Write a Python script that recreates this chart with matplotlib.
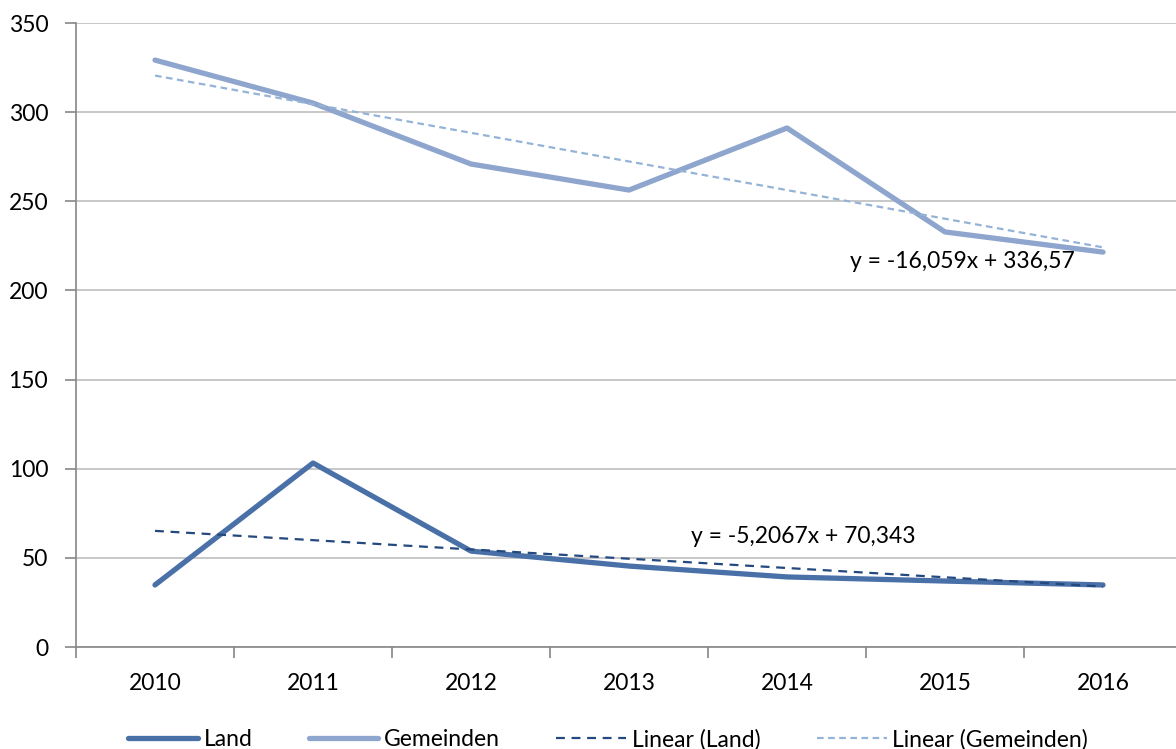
import matplotlib.pyplot as plt
import numpy as np

plt.rcParams['font.family'] = ['Lato', 'DejaVu Sans']

years = ["2010", "2011", "2012", "2013", "2014", "2015", "2016"]
land = [34.8, 103.2, 53.8, 45.4, 39.3, 37.0, 34.8]
gemeinden = [329.2, 305.1, 270.9, 256.3, 291.1, 232.8, 221.5]

# trendline coefficients (x = 1..7)
land_slope, land_intercept = -5.2067, 70.343
gem_slope, gem_intercept = -16.059, 336.57

c_land = '#4A70A8'
c_gem = '#8EA5CE'
c_land_trend = '#23497E'
c_gem_trend = '#95B3D7'

fs = 16.5

fig = plt.figure(figsize=(11.76, 7.49), dpi=100)
ax = fig.add_axes([76 / 1176, 102 / 749, 1106 / 1176, 624 / 749])

x = np.arange(len(years))
xn = x + 1

ax.plot(x, land, color=c_land, lw=3.8, solid_capstyle='round', label="Land", zorder=3)
ax.plot(x, gemeinden, color=c_gem, lw=3.8, solid_capstyle='round', label="Gemeinden", zorder=3)
ax.plot(x, land_intercept + land_slope * xn, color=c_land_trend, lw=1.6,
        dashes=(4, 3), label="Linear (Land)", zorder=4)
ax.plot(x, gem_intercept + gem_slope * xn, color=c_gem_trend, lw=1.6,
        dashes=(3, 2), label="Linear (Gemeinden)", zorder=4)


def fmt(v, digits):
    return f"{v:.{digits}f}".replace(".", ",")


ax.text(5.11, 216, f"y = {fmt(gem_slope, 3)}x + {fmt(gem_intercept, 2)}",
        ha='center', va='center', fontsize=fs, zorder=5)
ax.text(4.10, 62, f"y = {fmt(land_slope, 4)}x + {fmt(land_intercept, 3)}",
        ha='center', va='center', fontsize=fs, zorder=5)

ax.set_xlim(-0.5, 6.5)
ax.set_ylim(0, 350)
ax.set_yticks(np.arange(0, 351, 50))
ax.set_xticks(x)
ax.set_xticklabels(years)
ax.set_xticks(np.arange(-0.5, 7, 1), minor=True)
ax.tick_params(axis='x', which='major', length=0, pad=19, labelsize=fs)
ax.tick_params(axis='x', which='minor', length=8, color='#868686', width=1.2)
ax.tick_params(axis='y', length=8, color='#868686', width=1.2, pad=12, labelsize=fs)
ax.grid(axis='y', color='#BFBFBF', lw=1.2)
ax.set_axisbelow(True)
for s in ['top', 'right']:
    ax.spines[s].set_visible(False)
for s in ['left', 'bottom']:
    ax.spines[s].set_color('#868686')
    ax.spines[s].set_linewidth(1.2)

fig.legend(loc='lower center', bbox_to_anchor=(0.517, -0.029), ncol=4, frameon=False,
           fontsize=fs, handlelength=3.05, handletextpad=0.25, columnspacing=2.45)

fig.savefig("out.png", dpi=100)
